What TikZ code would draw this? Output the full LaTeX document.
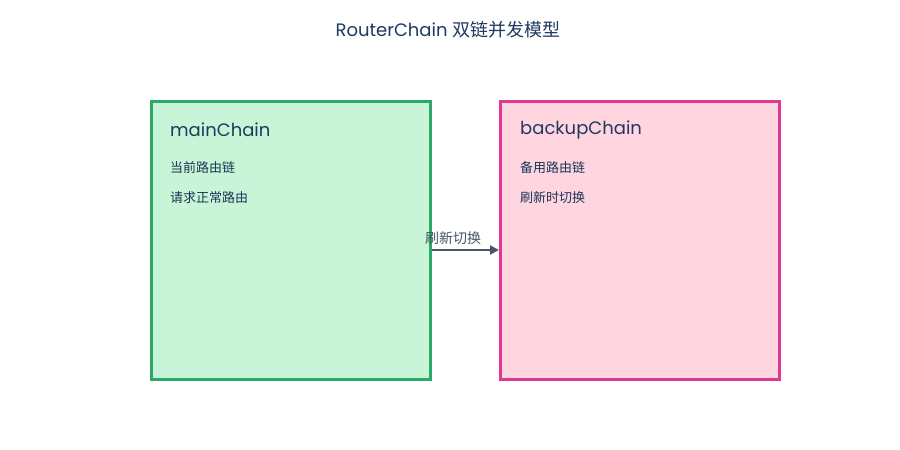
\documentclass[tikz,border=0pt]{standalone}
\usepackage{fontspec}
\setmainfont{Poppins}
\newfontfamily\cjk{Noto Sans CJK SC}
\usetikzlibrary{arrows.meta, positioning}
\definecolor{navy}{HTML}{1E3A5F}
\definecolor{slate}{HTML}{4A5568}
\definecolor{mainline}{HTML}{2EA866}
\definecolor{mainfill}{HTML}{C8F5D7}
\definecolor{backline}{HTML}{E0398F}
\definecolor{backfill}{HTML}{FFD6E0}
\newcommand\chainline[2]{\node [linetext, anchor=west] at #1 {\cjk #2};}

\begin{document}
\begin{tikzpicture}[x=1pt, y=-1pt,
    chainbox/.style={draw, line width=3pt, minimum width=279pt, minimum height=278pt, inner sep=0},
    headtext/.style={text=navy, font=\fontsize{18}{20}\selectfont, inner sep=0},
    linetext/.style={text=navy!90!black, font=\fontsize{13}{15}\selectfont, inner sep=0},
    flow/.style={draw=slate, line width=2pt, -{Triangle[length=9pt, width=9pt]}}]
  \fill [white] (0, 0) rectangle (900, 450);

  \node [font=\fontsize{18}{20}\selectfont, text=navy] (title) at (448, 30) {RouterChain {\cjk 双链并发模型}};

  % main chain
  \node [chainbox, draw=mainline, fill=mainfill] (main) at (290.5, 240) {};
  \node [headtext, anchor=west] (mainhead) at (170, 130) {mainChain};
  \chainline{(170, 168)}{当前路由链}
  \chainline{(170, 198)}{请求正常路由}

  % backup chain
  \node [chainbox, draw=backline, fill=backfill] (backup) at (640, 240) {};
  \node [headtext, anchor=west] (backuphead) at (520, 130) {backupChain};
  \chainline{(520, 168)}{备用路由链}
  \chainline{(520, 198)}{刷新时切换}

  \draw [flow] ([yshift=-10pt]main.east) -- ([yshift=-10pt]backup.west);
  \node [text=slate, font=\fontsize{14}{16}\selectfont\cjk, inner sep=0] (switch) at (453, 238) {刷新切换};
\end{tikzpicture}
\end{document}
